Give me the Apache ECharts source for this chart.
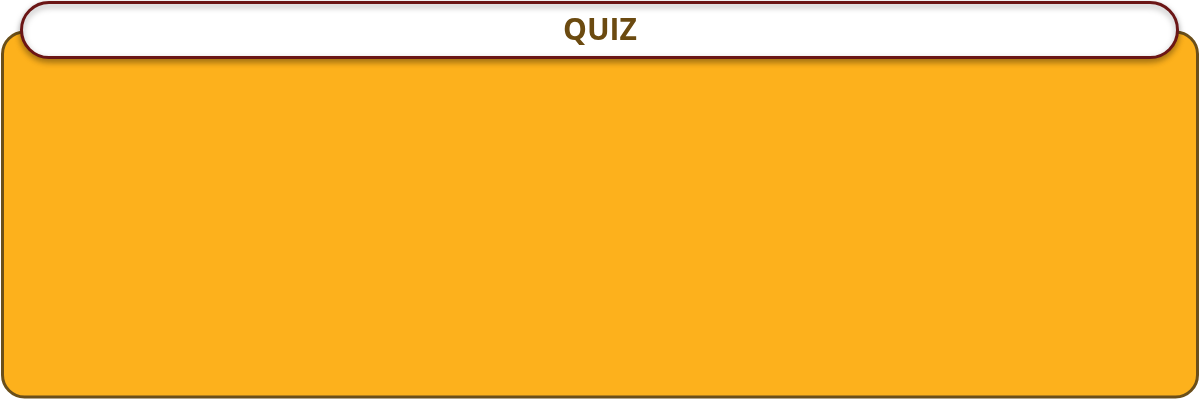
<!DOCTYPE html>
<html>
<head>
<meta charset="utf-8">
<script src="https://cdn.jsdelivr.net/npm/echarts@6/dist/echarts.min.js"></script>
<style>html,body{margin:0;padding:0;background:#fff}#main{width:1200px;height:400px}</style>
</head>
<body>
<div id="main"></div>
<script>
// no series data in this panel, just the heading
var titleText = "QUIZ";

var myChart = echarts.init(document.getElementById("main"));
var option = {
  animation: false,
  graphic: [
    {
      type: "rect",
      shape: { x: 2.5, y: 32, width: 1195, height: 365, r: 22 },
      style: { fill: "#fdb11c", stroke: "#6b4f1a", lineWidth: 3 }
    },
    {
      type: "rect",
      shape: { x: 21.5, y: 2.5, width: 1156, height: 55, r: 27.5 },
      style: {
        fill: "#fff",
        stroke: "#6b1616",
        lineWidth: 3,
        shadowBlur: 6,
        shadowOffsetY: 3,
        shadowColor: "rgba(0,0,0,0.35)"
      }
    },
    {
      type: "text",
      x: 600,
      y: 31,
      style: {
        text: titleText,
        fill: "#6b4a10",
        font: "bold 30px 'Open Sans', 'Noto Sans', sans-serif",
        align: "center",
        verticalAlign: "middle"
      }
    }
  ]
};
myChart.setOption(option);
</script>
</body>
</html>
